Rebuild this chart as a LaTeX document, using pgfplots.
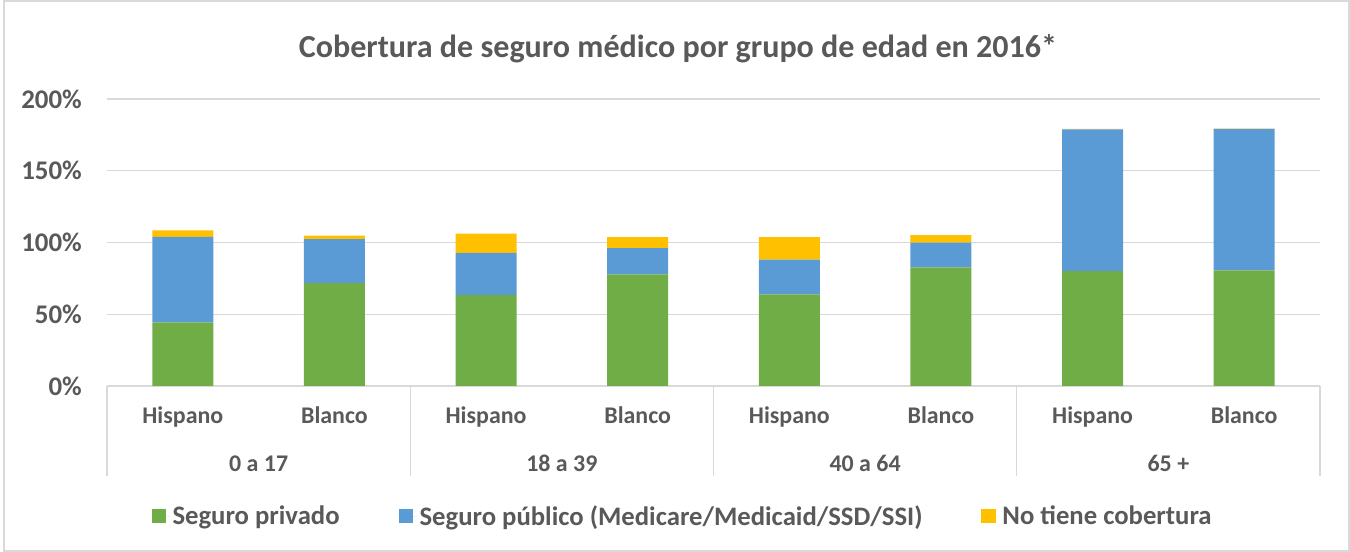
\documentclass[border=0pt]{standalone}
\usepackage{fontspec}
\setmainfont{Carlito}
\usepackage{pgfplots}
\pgfplotsset{compat=1.18}
\definecolor{cgreen}{HTML}{70AD47}
\definecolor{cblue}{HTML}{5B9BD5}
\definecolor{cyellow}{HTML}{FFC000}
\definecolor{ctext}{HTML}{595959}
\definecolor{cgrid}{HTML}{D9D9D9}
\newcommand{\tickfont}{\bfseries\fontsize{24}{28}\selectfont}
\newcommand{\ytickfont}{\bfseries\fontsize{27}{30}\selectfont}
\newcommand{\legfont}{\bfseries\fontsize{26.8}{30}\selectfont}
\begin{document}
\begin{tikzpicture}[x=1bp,y=1bp]
\useasboundingbox (0,0) rectangle (1350,552);
\draw[cgrid, line width=1.2bp] (4,1) rectangle (1349,551);
\node[text=ctext, font=\bfseries\fontsize{32.2}{38}\selectfont, anchor=base] at (678,494) {Cobertura de seguro médico por grupo de edad en 2016*};
\begin{axis}[at={(107bp,166bp)}, anchor=south west, scale only axis,
  width=1213bp, height=287bp,
  ybar stacked, bar width=61bp,
  xmin=-0.5, xmax=7.5, ymin=0, ymax=200,
  xtick={0,...,7},
  xticklabels={Hispano,Blanco,Hispano,Blanco,Hispano,Blanco,Hispano,Blanco},
  ytick={0,50,...,200},
  /pgf/number format/assume math mode=true,
  yticklabel={\pgfmathprintnumber{\tick}\%},
  ymajorgrids, grid style={cgrid, line width=1.3bp},
  axis line style={draw=none}, major tick length=0pt,
  tick label style={font=\tickfont, text=ctext, inner sep=0pt},
  yticklabel style={anchor=east, xshift=-25bp, font=\ytickfont},
  xticklabel style={anchor=base, yshift=-38bp},
  clip=false,
  legend columns=3,
  legend style={draw=none, fill=none, at={(0.4745,-0.453)}, anchor=center,
    font=\legfont, text=ctext,
    /tikz/every even column/.append style={column sep=57bp}},
  legend image code/.code={\path[#1] (0bp,-7.3bp) rectangle (14.6bp,7.3bp); \path (0bp,0bp) -- (19bp,0bp);},
]
\addplot[fill=cgreen, draw=none] coordinates {(0,44.4) (1,71.6) (2,63.4) (3,77.8) (4,63.9) (5,82.7) (6,80.1) (7,80.6)};
\addplot[fill=cblue, draw=none] coordinates {(0,59.6) (1,30.8) (2,29.3) (3,18.2) (4,24.1) (5,17.2) (6,98.8) (7,98.5)};
\addplot[fill=cyellow, draw=none] coordinates {(0,4.5) (1,2.3) (2,13.4) (3,7.8) (4,15.8) (5,5.3) (6,0.3) (7,0.2)};
\legend{Seguro privado, Seguro público (Medicare/Medicaid/SSD/SSI), No tiene cobertura}
\pgfplotsinvokeforeach{-0.5,1.5,3.5,5.5,7.5}{
  \draw[cgrid, line width=1.3bp] (axis cs:#1,0) -- ([yshift=-90bp]axis cs:#1,0);
}
\node[anchor=base, text=ctext, font=\tickfont, inner sep=0pt] at ([yshift=-86bp]axis cs:0.5,0) {0 a 17};
\node[anchor=base, text=ctext, font=\tickfont, inner sep=0pt] at ([yshift=-86bp]axis cs:2.5,0) {18 a 39};
\node[anchor=base, text=ctext, font=\tickfont, inner sep=0pt] at ([yshift=-86bp]axis cs:4.5,0) {40 a 64};
\node[anchor=base, text=ctext, font=\tickfont, inner sep=0pt] at ([yshift=-86bp]axis cs:6.5,0) {65 +};
\end{axis}
\end{tikzpicture}
\end{document}
